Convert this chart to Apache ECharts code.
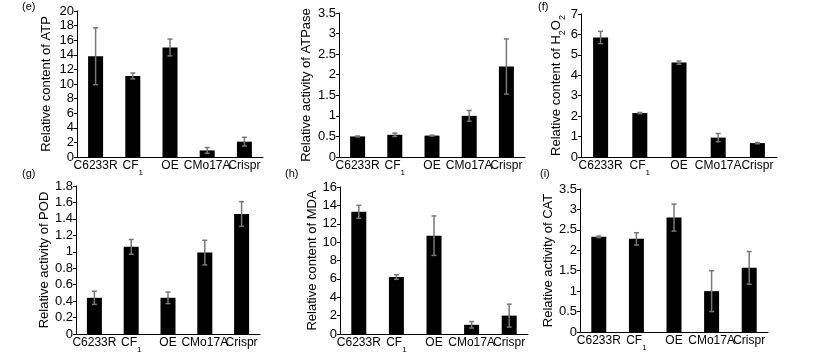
<!DOCTYPE html>
<html><head><meta charset="utf-8">
<script src="https://cdn.jsdelivr.net/npm/echarts@6/dist/echarts.min.js"></script>
<style>html,body{margin:0;padding:0;background:#fff}#c{width:818px;height:357px}</style>
</head><body><div id="c"></div>
<script>
const categories = ['C6233R', 'CF1', 'OE', 'CMo17A', 'Crispr'];

const atpValues = [13.8, 11.1, 15.0, 0.9, 2.1];
const atpErrors = [3.9, 0.4, 1.15, 0.4, 0.6];

const atpaseValues = [0.5, 0.54, 0.52, 1.0, 2.2];
const atpaseErrors = [0.01, 0.04, 0.01, 0.13, 0.67];

const h2o2Values = [5.85, 2.15, 4.62, 0.95, 0.68];
const h2o2Errors = [0.3, 0.03, 0.08, 0.2, 0.03];

const podValues = [0.44, 1.06, 0.44, 0.99, 1.46];
const podErrors = [0.08, 0.09, 0.07, 0.15, 0.15];

const mdaValues = [13.3, 6.2, 10.7, 1.0, 2.0];
const mdaErrors = [0.7, 0.25, 2.15, 0.35, 1.25];

const catValues = [2.33, 2.28, 2.8, 1.0, 1.57];
const catErrors = [0.02, 0.15, 0.33, 0.5, 0.4];

const yMax = [20, 3.5, 7, 1.8, 16, 3.5];
const yStep = [2, 0.5, 1, 0.2, 2, 0.5];
const yNames = [
  '{a|Relative content of ATP}',
  '{a|Relative activity of ATPase}',
  '{a|Relative content of H}{s|2}{a|O}{s|2}',
  '{a|Relative activity of POD}',
  '{a|Relative content of MDA}',
  '{a|Relative activity of CAT}'
];
const panelLabels = ['(e)', '(f)', '(g)', '(h)', '(i)'];

const valueSets = [atpValues, atpaseValues, h2o2Values, podValues, mdaValues, catValues];
const errorSets = [atpErrors, atpaseErrors, h2o2Errors, podErrors, mdaErrors, catErrors];

// layout
const grids = [
  {left: 77, top: 11, width: 186, height: 146},
  {left: 339, top: 13, width: 186, height: 144},
  {left: 581, top: 14, width: 196, height: 143},
  {left: 76, top: 186, width: 184, height: 148},
  {left: 340, top: 187, width: 188, height: 147},
  {left: 580, top: 189, width: 188, height: 143}
];
const nameGaps = [22, 24, 12, 23, 18, 16];
const labelPos = [[22, 1], [538, 1], [22, 168], [285, 168], [540, 168]];

const FONT = '"Liberation Sans", Arial, sans-serif';

const chart = echarts.init(document.getElementById('c'), null, {renderer: 'canvas'});

const xAxis = [], yAxis = [], series = [];
grids.forEach((g, i) => {
  xAxis.push({
    type: 'category', gridIndex: i, data: categories,
    axisLine: {lineStyle: {color: '#000', width: 1}},
    axisTick: {show: false},
    axisLabel: {
      interval: 0, margin: 3, color: '#000', fontSize: 12, fontFamily: FONT,
      formatter: v => v === 'CF1' ? '{a|CF}{s|1}' : '{a|' + v + '}',
      rich: {
        a: {fontSize: 12, fontFamily: FONT, color: '#000', verticalAlign: 'top', lineHeight: 14},
        s: {fontSize: 8, fontFamily: FONT, color: '#000', verticalAlign: 'top', padding: [9, 0, 0, 0]}
      }
    }
  });
  yAxis.push({
    type: 'value', gridIndex: i, min: 0, max: yMax[i], interval: yStep[i],
    name: yNames[i], nameLocation: 'middle', nameGap: nameGaps[i],
    nameTextStyle: {
      color: '#000', fontSize: 13, fontFamily: FONT,
      rich: {
        a: {fontSize: 13, fontFamily: FONT, color: '#000', verticalAlign: 'top', lineHeight: 15},
        s: {fontSize: 9, fontFamily: FONT, color: '#000', verticalAlign: 'top', padding: [8, 0, 0, 0]}
      }
    },
    axisLine: {show: true, lineStyle: {color: '#000', width: 1}},
    axisTick: {show: true, length: 3, lineStyle: {color: '#000'}},
    splitLine: {show: false},
    axisLabel: {color: '#000', fontSize: 13, fontFamily: FONT, margin: 3}
  });
  series.push({
    type: 'bar', xAxisIndex: i, yAxisIndex: i, data: valueSets[i],
    barWidth: 15, itemStyle: {color: '#000'}, silent: true, animation: false
  });
  series.push({
    type: 'custom', xAxisIndex: i, yAxisIndex: i, z: 5, animation: false, silent: true,
    data: valueSets[i].map((v, k) => [k, v, errorSets[i][k]]),
    encode: {x: 0, y: 1},
    renderItem: (params, api) => {
      const x = api.value(0), v = api.value(1), e = api.value(2);
      const hi = api.coord([x, v + e]);
      const lo = api.coord([x, v - e]);
      const w = 2.5;
      const st = {stroke: '#777', lineWidth: 1.5};
      return {type: 'group', children: [
        {type: 'line', shape: {x1: hi[0], y1: hi[1], x2: lo[0], y2: lo[1]}, style: st},
        {type: 'line', shape: {x1: hi[0] - w, y1: hi[1], x2: hi[0] + w, y2: hi[1]}, style: st},
        {type: 'line', shape: {x1: lo[0] - w, y1: lo[1], x2: lo[0] + w, y2: lo[1]}, style: st}
      ]};
    }
  });
});

const title = panelLabels.map((t, i) => ({
  text: t, left: labelPos[i][0], top: labelPos[i][1], padding: 0,
  textStyle: {fontSize: 11, fontWeight: 'normal', color: '#000', fontFamily: FONT}
}));

chart.setOption({
  animation: false,
  title: title,
  grid: grids.map(g => Object.assign({containLabel: false}, g)),
  xAxis: xAxis,
  yAxis: yAxis,
  series: series
});
</script></body></html>
